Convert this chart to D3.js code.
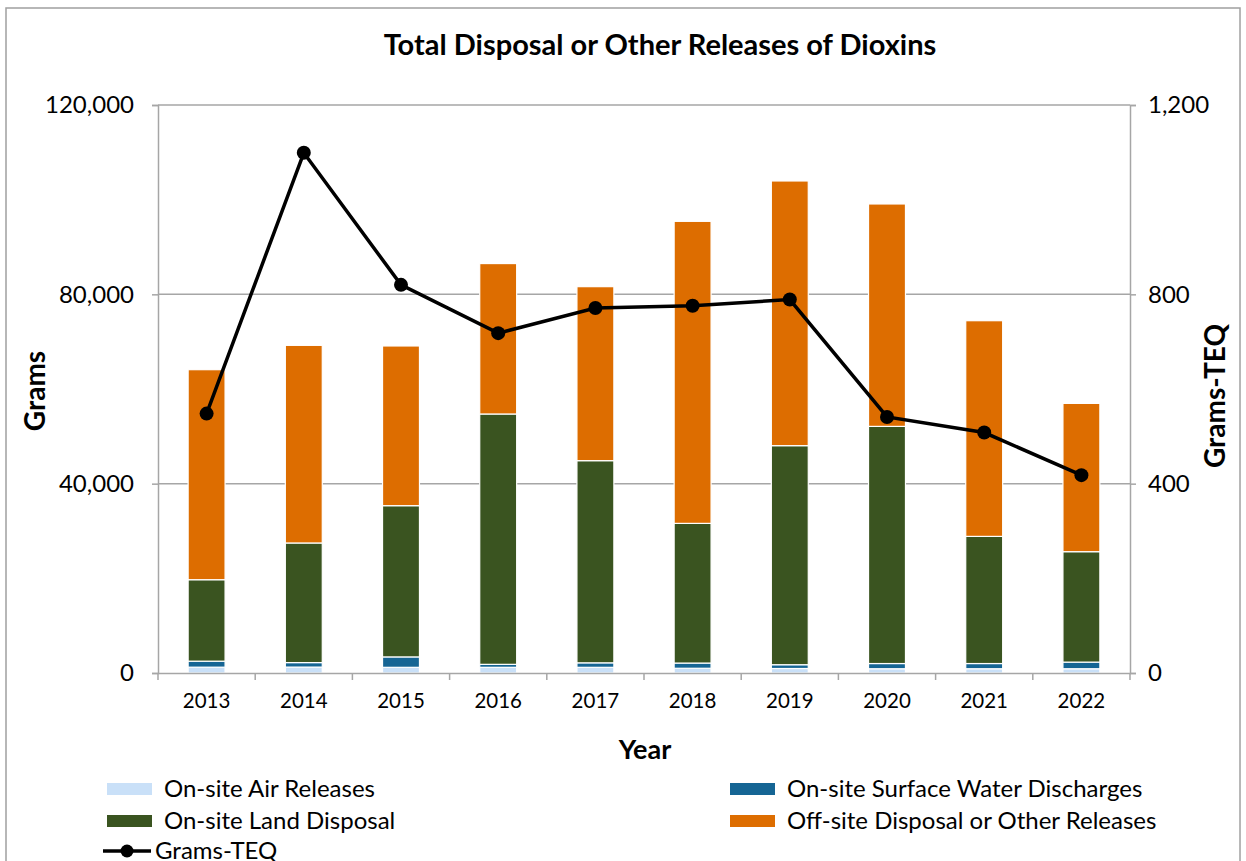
<!DOCTYPE html>
<html>
<head>
<meta charset="utf-8">
<script src="https://cdn.jsdelivr.net/npm/d3@7"></script>
<style>
  body { margin: 0; background: #fff; }
  text { font-family: Lato, "Open Sans", Arial, sans-serif; fill: #000; }
</style>
</head>
<body>
<div id="chart"></div>
<script>
// data (grams, grams-TEQ)
var years = ["2013", "2014", "2015", "2016", "2017", "2018", "2019", "2020", "2021", "2022"];
var airReleases = [1230, 1250, 1200, 1200, 1200, 1000, 950, 900, 900, 900];
var waterDischarges = [1270, 950, 2200, 630, 950, 1100, 800, 1100, 1100, 1400];
var landDisposal = [17210, 25270, 31950, 52890, 42710, 29510, 46280, 50100, 26860, 23330];
var offsiteReleases = [44370, 41750, 33740, 31780, 36760, 63810, 55920, 46990, 45570, 31330];
var gramsTEQ = [548, 1099, 820, 718, 771, 776, 789, 541, 508, 418];
var leftTicks = [0, 40000, 80000, 120000];
var rightTicks = [0, 400, 800, 1200];

var seriesNames = ["On-site Air Releases", "On-site Surface Water Discharges", "On-site Land Disposal", "Off-site Disposal or Other Releases"];
var seriesColors = ["#c9e0f8", "#156594", "#3a5420", "#dd6d00"];

var width = 1246, height = 861;
var plotLeft = 158, plotRight = 1130, plotTop = 105, plotBottom = 673;

var svg = d3.select("#chart").append("svg")
    .attr("width", width)
    .attr("height", height);

// frame
svg.append("rect")
    .attr("x", 6).attr("y", 8)
    .attr("width", 1234).attr("height", 900)
    .attr("fill", "none")
    .attr("stroke", "#a0a0a0")
    .attr("stroke-width", 1.5);

var x = d3.scaleBand().domain(years).range([plotLeft, plotRight]).paddingInner(0.62).paddingOuter(0.31);
var xBand = d3.scaleBand().domain(years).range([plotLeft, plotRight]);
var y = d3.scaleLinear().domain([0, 120000]).range([plotBottom, plotTop]);
var y2 = d3.scaleLinear().domain([0, 1200]).range([plotBottom, plotTop]);

// grid
svg.append("g").selectAll("line")
    .data(leftTicks.slice(1))
    .enter().append("line")
    .attr("x1", plotLeft).attr("x2", plotRight)
    .attr("y1", function (d) { return y(d); })
    .attr("y2", function (d) { return y(d); })
    .attr("stroke", "#a6a6a6")
    .attr("stroke-width", 1.5);

// stacked bars
var table = years.map(function (yr, i) {
    return { year: yr, a: airReleases[i], w: waterDischarges[i], l: landDisposal[i], o: offsiteReleases[i] };
});
var stack = d3.stack().keys(["a", "w", "l", "o"]);
var layers = stack(table);

svg.append("g").selectAll("g")
    .data(layers)
    .enter().append("g")
    .attr("fill", function (d, i) { return seriesColors[i]; })
    .selectAll("rect")
    .data(function (d) { return d; })
    .enter().append("rect")
    .attr("x", function (d) { return x(d.data.year); })
    .attr("width", x.bandwidth())
    .attr("y", function (d) { return y(d[1]); })
    .attr("height", function (d) { return y(d[0]) - y(d[1]); })
    .attr("stroke", "#ffffff")
    .attr("stroke-width", 1.2);

// axes
var axisColor = "#a6a6a6";
var leftAxis = svg.append("g")
    .attr("transform", "translate(" + plotLeft + ",0)")
    .call(d3.axisLeft(y).tickValues(leftTicks).tickSize(6).tickPadding(18).tickFormat(d3.format(",")));
var rightAxis = svg.append("g")
    .attr("transform", "translate(" + plotRight + ",0)")
    .call(d3.axisRight(y2).tickValues(rightTicks).tickSize(6).tickPadding(12).tickFormat(d3.format(",")));
var bottomAxis = svg.append("g")
    .attr("transform", "translate(0," + plotBottom + ")")
    .call(d3.axisBottom(xBand).tickSize(0).tickPadding(20));

[leftAxis, rightAxis, bottomAxis].forEach(function (g) {
    g.select(".domain").attr("stroke", axisColor).attr("stroke-width", 1.5);
    g.selectAll(".tick line").attr("stroke", axisColor).attr("stroke-width", 1.5);
    g.selectAll("text").style("font-family", "Lato, sans-serif").style("font-size", "24px").attr("fill", "#000");
});
bottomAxis.selectAll("text").style("font-size", "20.5px");

// category separators on x axis
svg.append("g").selectAll("line")
    .data(years.concat(["end"]))
    .enter().append("line")
    .attr("x1", function (d, i) { return plotLeft + i * xBand.bandwidth(); })
    .attr("x2", function (d, i) { return plotLeft + i * xBand.bandwidth(); })
    .attr("y1", plotBottom).attr("y2", plotBottom + 7)
    .attr("stroke", axisColor)
    .attr("stroke-width", 1.5);

// line series
var line = d3.line()
    .x(function (d, i) { return xBand(years[i]) + xBand.bandwidth() / 2; })
    .y(function (d) { return y2(d); });

svg.append("path")
    .datum(gramsTEQ)
    .attr("d", line)
    .attr("fill", "none")
    .attr("stroke", "#000")
    .attr("stroke-width", 3.5);

svg.append("g").selectAll("circle")
    .data(gramsTEQ)
    .enter().append("circle")
    .attr("cx", function (d, i) { return xBand(years[i]) + xBand.bandwidth() / 2; })
    .attr("cy", function (d) { return y2(d); })
    .attr("r", 7)
    .attr("fill", "#000");

// titles
svg.append("text")
    .attr("x", 660).attr("y", 55)
    .attr("text-anchor", "middle")
    .style("font-size", "29px")
    .style("font-weight", "bold")
    .text("Total Disposal or Other Releases of Dioxins");

svg.append("text")
    .attr("transform", "translate(45,391) rotate(-90)")
    .attr("text-anchor", "middle")
    .style("font-size", "28px")
    .style("font-weight", "bold")
    .text("Grams");

svg.append("text")
    .attr("transform", "translate(1225,396) rotate(-90)")
    .attr("text-anchor", "middle")
    .style("font-size", "28px")
    .style("font-weight", "bold")
    .text("Grams-TEQ");

svg.append("text")
    .attr("x", 645).attr("y", 759)
    .attr("text-anchor", "middle")
    .style("font-size", "27px")
    .style("font-weight", "bold")
    .text("Year");

// legend
var legendPos = [[107, 789], [730, 789], [107, 821], [730, 821]];
var legend = svg.append("g").selectAll("g")
    .data(seriesNames)
    .enter().append("g")
    .attr("transform", function (d, i) { return "translate(" + legendPos[i][0] + "," + legendPos[i][1] + ")"; });

legend.append("rect")
    .attr("x", 0).attr("y", -6)
    .attr("width", 45).attr("height", 12)
    .attr("fill", function (d, i) { return seriesColors[i]; });

legend.append("text")
    .attr("x", 57).attr("y", 8)
    .style("font-size", "24px")
    .text(function (d) { return d; });

var teq = svg.append("g").attr("transform", "translate(103,851)");
teq.append("line").attr("x1", 0).attr("x2", 48).attr("stroke", "#000").attr("stroke-width", 3.5);
teq.append("circle").attr("cx", 24).attr("r", 6.5).attr("fill", "#000");
teq.append("text").attr("x", 52).attr("y", 8).style("font-size", "24px").text("Grams-TEQ");
</script>
</body>
</html>
